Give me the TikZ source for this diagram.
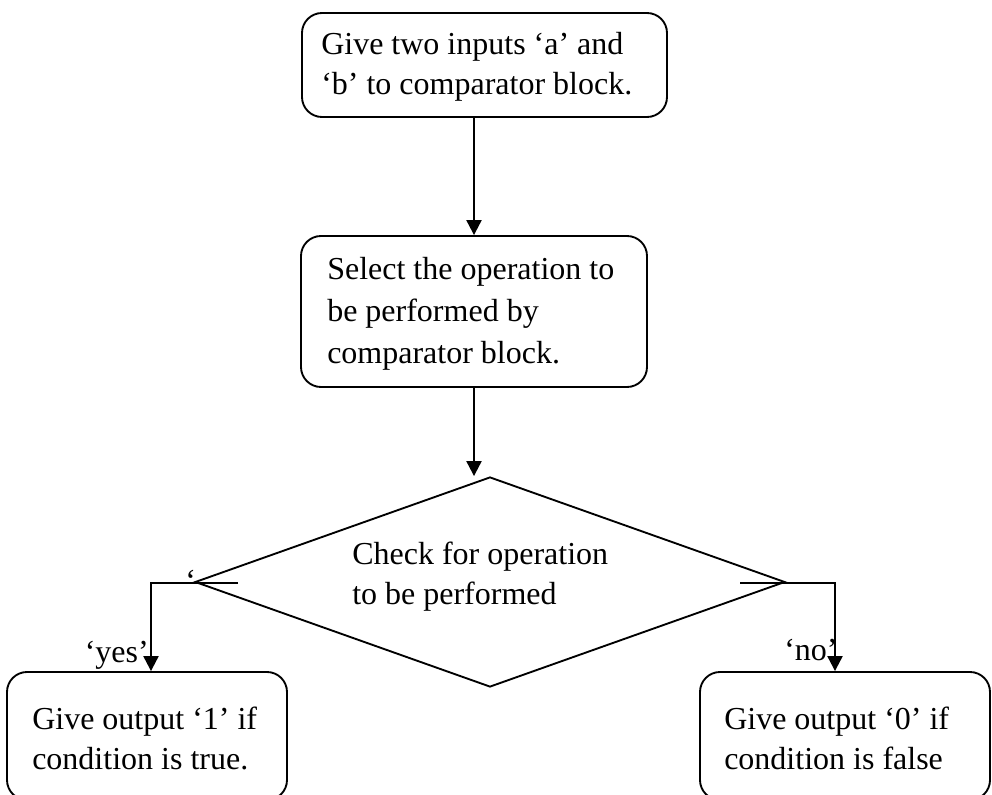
\documentclass[tikz,border=0pt]{standalone}
\usepackage{fontspec}
\setmainfont{Liberation Serif}
\usetikzlibrary{arrows.meta,shapes.geometric}
\begin{document}
\begin{tikzpicture}[x=0.75pt,y=-0.75pt,
  box/.style={draw,line width=1.4pt,rectangle,rounded corners=15pt,inner sep=0pt},
  decision/.style={draw,line width=1.4pt,diamond,inner sep=0pt,
    minimum width=442.5pt,minimum height=157.5pt},
  label/.style={inner sep=0pt,anchor=base west},
  arr/.style={line width=1.6pt,-{Triangle[width=11.25pt,length=11.25pt]}},
  plain/.style={line width=1.6pt}]
\useasboundingbox (0,0) rectangle (992,795);
\clip (0,0) rectangle (992,795);

% process boxes and decision
\node[box,minimum width=273.75pt,minimum height=78pt] (inp) at (484.5,65) {};
\node[box,minimum width=259.5pt,minimum height=113.25pt] (sel) at (474,311.5) {};
\node[decision] (chk) at (490,582) {};
\node[box,minimum width=210pt,minimum height=96pt] (yes) at (147,736) {};
\node[box,minimum width=217.5pt,minimum height=96pt] (no) at (845,736) {};

% box texts
\node[label,font=\fontsize{24}{30}\selectfont] (inptxt) at (321,55)
  {\begin{tabular}[t]{@{}l@{}}Give two inputs ‘a’ and\\‘b’ to comparator block.\end{tabular}};
\node[label,font=\fontsize{24}{31.5}\selectfont] (seltxt) at (327,279)
  {\begin{tabular}[t]{@{}l@{}}Select the operation to\\be performed by\\comparator block.\end{tabular}};
\node[label,font=\fontsize{24}{30}\selectfont] (chktxt) at (352,564)
  {\begin{tabular}[t]{@{}l@{}}Check for operation\\to be performed\end{tabular}};
\node[label,font=\fontsize{24}{30}\selectfont] (yestxt) at (32,729)
  {\begin{tabular}[t]{@{}l@{}}Give output ‘1’ if\\condition is true.\end{tabular}};
\node[label,font=\fontsize{24}{30}\selectfont] (notxt) at (724,729)
  {\begin{tabular}[t]{@{}l@{}}Give output ‘0’ if\\condition is false\end{tabular}};

% branch labels
\node[label,font=\fontsize{24}{28}\selectfont] (q) at (185,591) {‘};
\node[inner sep=0pt,anchor=base east,font=\fontsize{24}{28}\selectfont] (yeslbl) at (149,662) {‘yes’};
\node[label,font=\fontsize{24}{28}\selectfont] (nolbl) at (784,660) {‘no’};

% branch points
\coordinate (lin) at (238,583);
\coordinate (lturn) at (151,583);
\coordinate (rin) at (740,583);
\coordinate (rturn) at (835,583);

% connectors
\draw[arr] (sel.north |- inp.south) -- (sel.north);
\draw[arr] (sel.south) -- (sel.south |- chk.north);
\draw[arr] (lin) -- (lturn) -- (lturn |- yes.north);
\draw[arr] (rin) -- (rturn) -- (rturn |- no.north);
\end{tikzpicture}
\end{document}
